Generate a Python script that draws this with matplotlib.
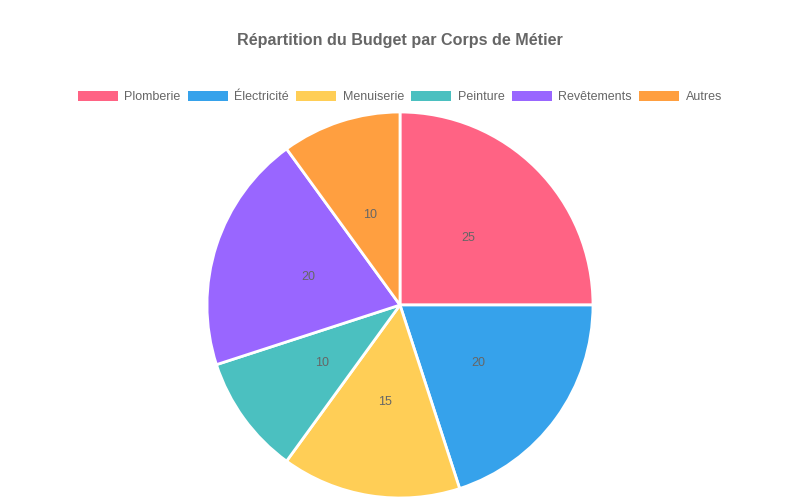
import matplotlib.pyplot as plt
from matplotlib.patches import Patch

plt.rcParams['font.family'] = ['Liberation Sans', 'DejaVu Sans']

labels = ['Plomberie', 'Électricité', 'Menuiserie', 'Peinture', 'Revêtements', 'Autres']
values = [25, 20, 15, 10, 20, 10]
colors = ['#FF6384', '#36A2EB', '#FFCE56', '#4BC0C0', '#9966FF', '#FF9F40']

fig = plt.figure(figsize=(8, 5), dpi=100)
# pie centre around (400, 305) px, radius ~193 px
r = 193
ax = fig.add_axes([(400 - r) / 800, (500 - 305 - r) / 500, 2 * r / 800, 2 * r / 500])

wedges, texts = ax.pie(values, colors=colors, startangle=90, counterclock=False,
                       radius=1, labels=[str(v) for v in values], labeldistance=0.5,
                       wedgeprops=dict(edgecolor='white', linewidth=2),
                       textprops=dict(color='#666666', fontsize=9))
for t in texts:
    t.set_ha('center')
    t.set_va('center_baseline')
ax.set_xlim(-1, 1)
ax.set_ylim(-1, 1)
ax.set_aspect('equal')
ax.axis('off')

fig.text(0.5, 1 - 40 / 500, 'Répartition du Budget par Corps de Métier',
         ha='center', va='center', fontsize=11.6, fontweight='bold', color='#666666')

handles = [Patch(facecolor=c, edgecolor='none') for c in colors]
fig.legend(handles, labels, loc='center', bbox_to_anchor=(0.5, 1 - 97 / 500), ncol=6,
           frameon=False, fontsize=9, labelcolor='#666666',
           handlelength=3.2, handleheight=0.8, handletextpad=0.5, columnspacing=0.6)

fig.savefig('out.png', dpi=100)
